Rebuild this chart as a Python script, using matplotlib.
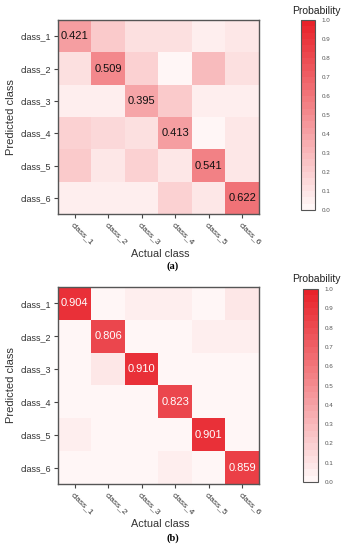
import numpy as np
import matplotlib
matplotlib.use("Agg")
import matplotlib.pyplot as plt
from matplotlib.colors import LinearSegmentedColormap

plt.rcParams["font.family"] = ["Liberation Sans", "DejaVu Sans"]

classes = ["class_1", "class_2", "class_3", "class_4", "class_5", "class_6"]

# rows: predicted class, columns: actual class
matrix_a = [
    [0.421, 0.20, 0.10, 0.10, 0.06, 0.07],
    [0.12, 0.509, 0.17, 0.03, 0.27, 0.12],
    [0.04, 0.05, 0.395, 0.22, 0.05, 0.04],
    [0.18, 0.14, 0.10, 0.413, 0.03, 0.08],
    [0.20, 0.07, 0.18, 0.07, 0.541, 0.07],
    [0.05, 0.05, 0.05, 0.17, 0.07, 0.622],
]
matrix_b = [
    [0.904, 0.01, 0.04, 0.06, 0.02, 0.07],
    [0.01, 0.806, 0.02, 0.02, 0.05, 0.05],
    [0.01, 0.08, 0.910, 0.01, 0.01, 0.01],
    [0.01, 0.01, 0.01, 0.823, 0.01, 0.01],
    [0.05, 0.01, 0.01, 0.01, 0.901, 0.01],
    [0.01, 0.01, 0.01, 0.05, 0.01, 0.859],
]
cbar_ticks = [0.0, 0.1, 0.2, 0.3, 0.4, 0.5, 0.6, 0.7, 0.8, 0.9, 1.0]

cmap = LinearSegmentedColormap.from_list("prob", ["#fff6f6", "#e8222a"], N=30)

W, H = 348, 550
fig = plt.figure(figsize=(W / 100, H / 100), dpi=100)
fig.patch.set_facecolor("white")

def px_axes(x0, y0, x1, y1):
    return fig.add_axes([x0 / W, 1 - y1 / H, (x1 - x0) / W, (y1 - y0) / H])

def draw(matrix, hm_box, cb_box, label, text_color, label_y, title_y, xlab_y):
    data = np.array(matrix)
    ax = px_axes(*hm_box)
    im = ax.imshow(data, cmap=cmap, vmin=0, vmax=1, aspect="auto")
    n = len(classes)
    for i in range(n):
        ax.text(i, i, f"{data[i, i]:.3f}", ha="center", va="center",
                fontsize=8, color=text_color)
    ax.set_xticks(range(n))
    ax.set_yticks(range(n))
    ax.set_yticklabels(classes, fontsize=6.5)
    ax.set_xticklabels(classes, fontsize=6.0, rotation=-45, ha="left", va="top",
                       rotation_mode="anchor")
    for t in ax.get_xticklabels() + ax.get_yticklabels():
        t.set_color("#333333")
    ax.tick_params(length=3, width=0.8, color="#444444", pad=2)
    ax.tick_params(axis="x", pad=2.5)
    for s in ax.spines.values():
        s.set_color("#555555")
        s.set_linewidth(1.0)
    ax.set_ylabel("Predicted class", fontsize=8, color="#333333", labelpad=3)
    fig.text(160 / W, 1 - xlab_y / H, "Actual class", ha="center", va="center",
             fontsize=7.8, color="#333333")

    cax = px_axes(*cb_box)
    cb = fig.colorbar(im, cax=cax, ticks=cbar_ticks)
    cb.ax.tick_params(labelsize=4.5, length=0, pad=5, colors="#555555")
    cb.ax.set_yticklabels([f"{t:.1f}" for t in cbar_ticks])
    cb.outline.set_edgecolor("#555555")
    cb.outline.set_linewidth(0.8)
    fig.text(316 / W, 1 - title_y / H, "Probability", ha="center", va="center",
             fontsize=7.5, color="#222222")

    fig.text(173 / W, 1 - label_y / H, label, ha="center", va="center",
             fontsize=7.5, family="Liberation Serif", fontweight="bold")

draw(matrix_a, (58, 20, 259, 214), (301, 20, 315, 210), "(a)", "#111111", 266, 11, 254)
draw(matrix_b, (58, 287, 259, 484), (303, 289, 318, 482), "(b)", "white", 538.5, 279, 524)

fig.savefig("out.png", dpi=100, facecolor="white")
